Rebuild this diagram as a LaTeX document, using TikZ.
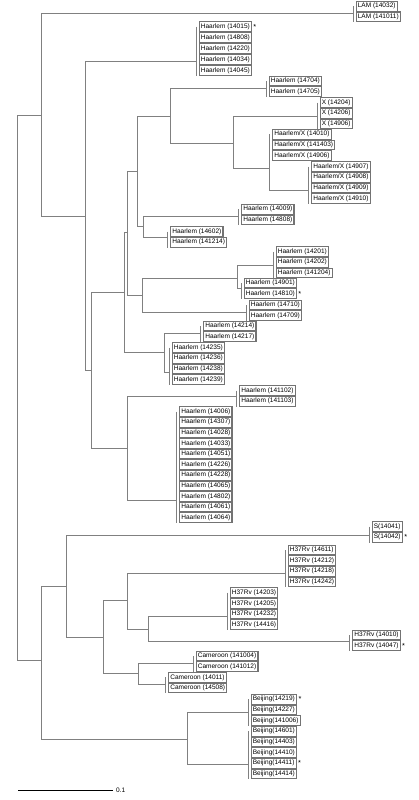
\documentclass[tikz,border=0pt]{standalone}
\usepackage{fontspec}
\setmainfont{Liberation Sans}

\tikzset{every picture/.style={line width=0.75pt}}
\tikzset{
  branch/.style={color=gray, line width=0.75pt},
  leaf/.style={draw=black!55, line width=0.85pt, fill=white, anchor=west, inner xsep=1.3pt, inner ysep=0pt, minimum height=7.3pt, font=\fontsize{4.9}{5}\selectfont},
  marked/.style={label={[inner sep=0.6pt, font=\fontsize{5.5}{5}\selectfont]east:*}}
}

\begin{document}
\begin{tikzpicture}[x=0.75pt,y=0.75pt,yscale=-1,xscale=1]
\useasboundingbox (0,0) rectangle (418,800);

%Inner nodes
\coordinate (root) at (17,387.5);
\coordinate (nUp) at (41,115);
\coordinate (nLow) at (41,660);
\coordinate (nHaar) at (85,216);
\coordinate (nH2) at (91,370);
\coordinate (nA) at (124,292);
\coordinate (nB) at (127,232);
\coordinate (nC) at (137,171);
\coordinate (nD) at (142,295);
\coordinate (nE) at (170,116);
\coordinate (nF) at (143,226);
\coordinate (nG) at (233,143);
\coordinate (nI) at (269.5,168);
\coordinate (nH) at (237,278);
\coordinate (nC2) at (164,352);
\coordinate (nH11) at (127,448);
\coordinate (nJ) at (66,586);
\coordinate (nK) at (103,637);
\coordinate (nL) at (127,600);
\coordinate (nM) at (148,629);
\coordinate (nN) at (138,673);
\coordinate (nO) at (187,739);

%Group joints
\coordinate (gLAM) at (353,13.3);
\coordinate (g5) at (196,61);
\coordinate (gP1) at (266,88);
\coordinate (gX3) at (317,116.7);
\coordinate (gHX3) at (269.5,145);
\coordinate (gHX4) at (308.5,190);
\coordinate (gP2) at (238.5,216);
\coordinate (gP3) at (167.5,237);
\coordinate (gT) at (273,265);
\coordinate (gP5) at (241,288);
\coordinate (gP4) at (246,312);
\coordinate (gP6) at (200.5,333);
\coordinate (g4) at (169,372);
\coordinate (gP7) at (236.5,396);
\coordinate (g11) at (176.5,500);
\coordinate (gS) at (369,535);
\coordinate (gR1) at (285,573);
\coordinate (gR2) at (227,616);
\coordinate (gR3) at (349.5,641);
\coordinate (gC1) at (193,663);
\coordinate (gC2) at (165.5,684);
\coordinate (gB3) at (248,712);
\coordinate (gB5) at (248,764);

%Straight Lines
\draw [branch] (root) |- (nUp);
\draw [branch] (root) |- (nLow);
\draw [branch] (nUp) |- (gLAM);
\draw [branch] (nUp) |- (nHaar);
\draw [branch] (nHaar) |- (g5);
\draw [branch] (nHaar) |- (nH2);
\draw [branch] (nH2) |- (nA);
\draw [branch] (nH2) |- (nH11);
\draw [branch] (nA) |- (nB);
\draw [branch] (nA) |- (nC2);
\draw [branch] (nB) |- (nC);
\draw [branch] (nB) |- (nD);
\draw [branch] (nC) |- (nE);
\draw [branch] (nC) |- (nF);
\draw [branch] (nE) |- (gP1);
\draw [branch] (nE) |- (nG);
\draw [branch] (nG) |- (gX3);
\draw [branch] (nG) |- (nI);
\draw [branch] (nI) |- (gHX3);
\draw [branch] (nI) |- (gHX4);
\draw [branch] (nF) |- (gP2);
\draw [branch] (nF) |- (gP3);
\draw [branch] (nD) |- (nH);
\draw [branch] (nD) |- (gP4);
\draw [branch] (nH) |- (gT);
\draw [branch] (nH) |- (gP5);
\draw [branch] (nC2) |- (gP6);
\draw [branch] (nC2) |- (g4);
\draw [branch] (nH11) |- (gP7);
\draw [branch] (nH11) |- (g11);
\draw [branch] (nLow) |- (nJ);
\draw [branch] (nLow) |- (nO);
\draw [branch] (nJ) |- (gS);
\draw [branch] (nJ) |- (nK);
\draw [branch] (nK) |- (nL);
\draw [branch] (nK) |- (nN);
\draw [branch] (nL) |- (gR1);
\draw [branch] (nL) |- (nM);
\draw [branch] (nM) |- (gR2);
\draw [branch] (nM) |- (gR3);
\draw [branch] (nN) |- (gC1);
\draw [branch] (nN) |- (gC2);
\draw [branch] (nO) |- (gB3);
\draw [branch] (nO) |- (gB5);

% Text Node
\draw (355.5,6.3) node [leaf] (lam1) {LAM (14032)};
\draw (355.5,16.9) node [leaf] (lam2) {LAM (141011)};
% Text Node
\draw (198.5,26.7) node [leaf, marked] (hA1) {Haarlem (14015)};
\draw (198.5,37.7) node [leaf] (hA2) {Haarlem (14808)};
\draw (198.5,48.7) node [leaf] (hA3) {Haarlem (14220)};
\draw (198.5,59.7) node [leaf] (hA4) {Haarlem (14034)};
\draw (198.5,70.7) node [leaf] (hA5) {Haarlem (14045)};
% Text Node
\draw (268.5,81) node [leaf] (hB1) {Haarlem (14704)};
\draw (268.5,91.7) node [leaf] (hB2) {Haarlem (14705)};
% Text Node
\draw (319.5,102.7) node [leaf] (x1) {X (14204)};
\draw (319.5,113.3) node [leaf] (x2) {X (14206)};
\draw (319.5,124) node [leaf] (x3) {X (14906)};
% Text Node
\draw (272,134.3) node [leaf] (hx1) {Haarlem/X (14010)};
\draw (272,145) node [leaf] (hx2) {Haarlem/X (141403)};
\draw (272,155.7) node [leaf] (hx3) {Haarlem/X (14906)};
% Text Node
\draw (311,166.7) node [leaf] (hx4) {Haarlem/X (14907)};
\draw (311,177.3) node [leaf] (hx5) {Haarlem/X (14908)};
\draw (311,188) node [leaf] (hx6) {Haarlem/X (14909)};
\draw (311,198.7) node [leaf] (hx7) {Haarlem/X (14910)};
% Text Node
\draw (241,209.3) node [leaf] (hC1) {Haarlem (14009)};
\draw (241,220) node [leaf] (hC2) {Haarlem (14808)};
% Text Node
\draw (170,231.7) node [leaf] (hD1) {Haarlem (14602)};
\draw (170,242.3) node [leaf] (hD2) {Haarlem (141214)};
% Text Node
\draw (275.5,251.7) node [leaf] (hE1) {Haarlem (14201)};
\draw (275.5,262.3) node [leaf] (hE2) {Haarlem (14202)};
\draw (275.5,273) node [leaf] (hE3) {Haarlem (141204)};
% Text Node
\draw (243.5,283) node [leaf] (hF1) {Haarlem (14901)};
\draw (243.5,293.7) node [leaf, marked] (hF2) {Haarlem (14810)};
% Text Node
\draw (248.5,305) node [leaf] (hG1) {Haarlem (14710)};
\draw (248.5,315.7) node [leaf] (hG2) {Haarlem (14709)};
% Text Node
\draw (203,326) node [leaf] (hH1) {Haarlem (14214)};
\draw (203,336.7) node [leaf] (hH2) {Haarlem (14217)};
% Text Node
\draw (171.5,347.7) node [leaf] (hI1) {Haarlem (14235)};
\draw (171.5,358.3) node [leaf] (hI2) {Haarlem (14236)};
\draw (171.5,369) node [leaf] (hI3) {Haarlem (14238)};
\draw (171.5,379.7) node [leaf] (hI4) {Haarlem (14239)};
% Text Node
\draw (239,390.7) node [leaf] (hJ1) {Haarlem (141102)};
\draw (239,401.3) node [leaf] (hJ2) {Haarlem (141103)};
% Text Node
\draw (179,411.7) node [leaf] (hK1) {Haarlem (14006)};
\draw (179,422.3) node [leaf] (hK2) {Haarlem (14307)};
\draw (179,432.9) node [leaf] (hK3) {Haarlem (14028)};
\draw (179,443.5) node [leaf] (hK4) {Haarlem (14033)};
\draw (179,454.1) node [leaf] (hK5) {Haarlem (14051)};
\draw (179,464.7) node [leaf] (hK6) {Haarlem (14226)};
\draw (179,475.3) node [leaf] (hK7) {Haarlem (14228)};
\draw (179,485.9) node [leaf] (hK8) {Haarlem (14065)};
\draw (179,496.5) node [leaf] (hK9) {Haarlem (14802)};
\draw (179,507.1) node [leaf] (hK10) {Haarlem (14061)};
\draw (179,517.7) node [leaf] (hK11) {Haarlem (14064)};
% Text Node
\draw (371.5,526.7) node [leaf] (s1) {S(14041)};
\draw (371.5,537.3) node [leaf, marked] (s2) {S(14042)};
% Text Node
\draw (287.5,550) node [leaf] (rA1) {H37Rv (14611)};
\draw (287.5,560.7) node [leaf] (rA2) {H37Rv (14212)};
\draw (287.5,571.3) node [leaf] (rA3) {H37Rv (14218)};
\draw (287.5,582) node [leaf] (rA4) {H37Rv (14242)};
% Text Node
\draw (229.5,592.7) node [leaf] (rB1) {H37Rv (14203)};
\draw (229.5,603.3) node [leaf] (rB2) {H37Rv (14205)};
\draw (229.5,613.9) node [leaf] (rB3) {H37Rv (14232)};
\draw (229.5,624.5) node [leaf] (rB4) {H37Rv (14416)};
% Text Node
\draw (352,635) node [leaf] (rC1) {H37Rv (14010)};
\draw (352,645.7) node [leaf, marked] (rC2) {H37Rv (14047)};
% Text Node
\draw (195.5,656) node [leaf] (cA1) {Cameroon (141004)};
\draw (195.5,666.7) node [leaf] (cA2) {Cameroon (141012)};
% Text Node
\draw (168,677.3) node [leaf] (cB1) {Cameroon (14011)};
\draw (168,688) node [leaf] (cB2) {Cameroon (14508)};
% Text Node
\draw (250.5,699.3) node [leaf, marked] (bA1) {Beijing(14219)};
\draw (250.5,710) node [leaf] (bA2) {Beijing(14227)};
\draw (250.5,720.7) node [leaf] (bA3) {Beijing(141006)};
% Text Node
\draw (250.5,731.3) node [leaf] (bB1) {Beijing(14601)};
\draw (250.5,742) node [leaf] (bB2) {Beijing(14403)};
\draw (250.5,752.6) node [leaf] (bB3) {Beijing(14410)};
\draw (250.5,763.2) node [leaf, marked] (bB4) {Beijing(14411)};
\draw (250.5,773.8) node [leaf] (bB5) {Beijing(14414)};

%Group bars
\draw [branch] (gLAM |- lam1.west) -- (gLAM |- lam2.south);
\draw [branch] (g5 |- hA1.west) -- (g5 |- hA5.south);
\draw [branch] (gP1 |- hB1.west) -- (gP1 |- hB2.south);
\draw [branch] (gX3 |- x1.west) -- (gX3 |- x3.south);
\draw [branch] (gHX3 |- hx1.west) -- (gHX3 |- hx3.south);
\draw [branch] (gHX4 |- hx4.west) -- (gHX4 |- hx7.south);
\draw [branch] (gP2 |- hC1.west) -- (gP2 |- hC2.south);
\draw [branch] (gP3 |- hD1.west) -- (gP3 |- hD2.south);
\draw [branch] (gT |- hE1.west) -- (gT |- hE3.south);
\draw [branch] (gP5 |- hF1.west) -- (gP5 |- hF2.south);
\draw [branch] (gP4 |- hG1.west) -- (gP4 |- hG2.south);
\draw [branch] (gP6 |- hH1.west) -- (gP6 |- hH2.south);
\draw [branch] (g4 |- hI1.west) -- (g4 |- hI4.south);
\draw [branch] (gP7 |- hJ1.west) -- (gP7 |- hJ2.south);
\draw [branch] (g11 |- hK1.west) -- (g11 |- hK11.south);
\draw [branch] (gS |- s1.west) -- (gS |- s2.south);
\draw [branch] (gR1 |- rA1.west) -- (gR1 |- rA4.south);
\draw [branch] (gR2 |- rB1.west) -- (gR2 |- rB4.south);
\draw [branch] (gR3 |- rC1.west) -- (gR3 |- rC2.south);
\draw [branch] (gC1 |- cA1.west) -- (gC1 |- cA2.south);
\draw [branch] (gC2 |- cB1.west) -- (gC2 |- cB2.south);
\draw [branch] (gB3 |- bA1.west) -- (gB3 |- bA3.south);
\draw [branch] (gB5 |- bB1.west) -- (gB5 |- bB5.south);

%Scale bar
\coordinate (sb1) at (18,790);
\coordinate (sb2) at (113,790);
\draw [line width=0.6pt] (sb1) -- (sb2) node [right, inner sep=2pt, font=\fontsize{4.9}{5}\selectfont] (sbl) {0.1};

\end{tikzpicture}
\end{document}
